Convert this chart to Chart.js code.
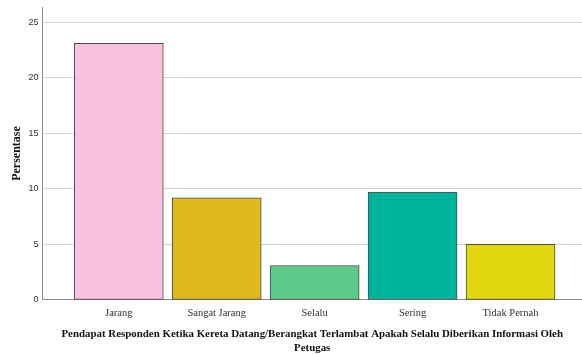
<!DOCTYPE html>
<html>
<head>
<meta charset="utf-8">
<script src="https://cdn.jsdelivr.net/npm/chart.js@4.4.1/dist/chart.umd.min.js"></script>
<style>
  html, body { margin: 0; padding: 0; background: #fff; }
  #wrap { width: 582px; height: 355px; }
</style>
</head>
<body>
<div id="wrap"><canvas id="bar-chart"></canvas></div>
<script>
  // ------------------------------------------------------
  // @Data
  // ------------------------------------------------------
  const categories = ['Jarang', 'Sangat Jarang', 'Selalu', 'Sering', 'Tidak Pernah'];
  const persentase = [23.1, 9.2, 3.1, 9.7, 5.0];
  const yTicks     = [0, 5, 10, 15, 20, 25];
  const barColors  = ['#fcc1df', '#e0b920', '#5ecb8b', '#00b39d', '#e2d810'];

  const xTitle = [
    'Pendapat Responden Ketika Kereta Datang/Berangkat Terlambat Apakah Selalu Diberikan Informasi Oleh',
    'Petugas',
  ];

  const serif = '"Liberation Serif", "Times New Roman", serif';
  const sans  = '"Liberation Sans", Arial, sans-serif';

  const ctx = document.getElementById('bar-chart').getContext('2d');

  new Chart(ctx, {
    type: 'bar',
    data: {
      datasets: [{
        label           : 'Persentase',
        data            : persentase.map((v, i) => ({ x: i, y: v })),
        backgroundColor : barColors,
        borderColor     : '#4a4a4a',
        borderWidth     : 1,
        borderSkipped   : false,
        barThickness    : 89,
      }],
    },
    options: {
      responsive: true,
      maintainAspectRatio: false,
      animation: false,
      layout: { padding: { top: 7, right: 0, left: 1, bottom: -1 } },
      plugins: {
        legend: { display: false },
        tooltip: { enabled: false },
      },
      scales: {
        x: {
          type: 'linear',
          offset: false,
          min: -0.78,
          max: 4.73,
          afterBuildTicks: (s) => { s.ticks = categories.map((_, i) => ({ value: i })); },
          grid: { display: false, drawTicks: false, offset: false },
          border: { color: '#8c8c8c', width: 1 },
          ticks: {
            padding: 7,
            color: '#333',
            font: { family: serif, size: 10.5 },
            callback: (v) => categories[v] ?? '',
            maxRotation: 0,
            autoSkip: false,
          },
          title: {
            display: true,
            text: xTitle,
            color: '#111',
            font: { family: serif, size: 10.9, weight: 'bold', lineHeight: 1.35 },
            padding: { top: 0, bottom: 0 },
          },
        },
        y: {
          min: 0,
          max: 26.36,
          afterBuildTicks: (s) => { s.ticks = yTicks.map(v => ({ value: v })); },
          afterFit: (s) => { s.paddingTop = 0; },
          grid: { color: '#d4d4d4', drawTicks: false },
          border: { color: '#8c8c8c', width: 1 },
          ticks: {
            padding: 4,
            color: '#333',
            font: { family: sans, size: 9 },
          },
          title: {
            display: true,
            text: 'Persentase',
            color: '#111',
            font: { family: serif, size: 12, weight: 'bold' },
            padding: { top: 9, bottom: 0 },
          },
        },
      },
    },
  });
</script>
</body>
</html>
